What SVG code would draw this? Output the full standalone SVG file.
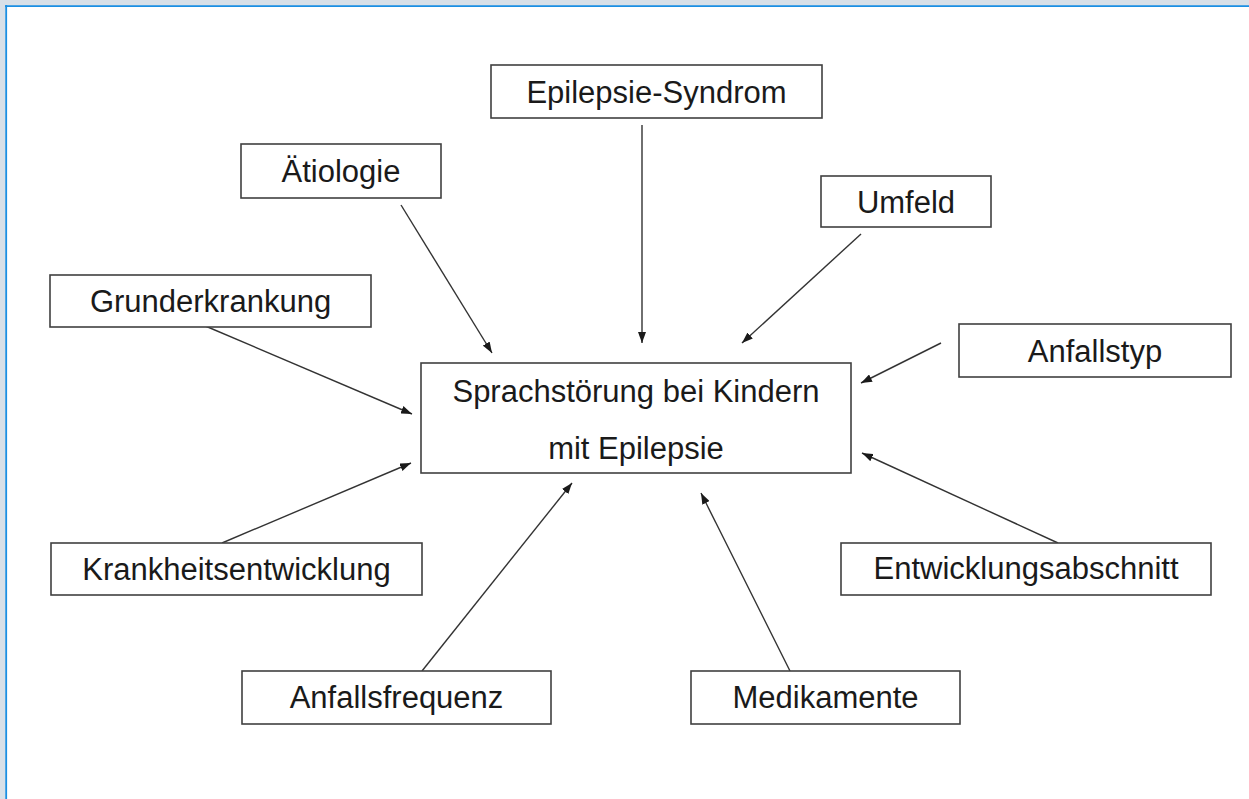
<svg xmlns="http://www.w3.org/2000/svg" width="1249" height="799" viewBox="0 0 1249 799">
<style>
.box{fill:#fff;stroke:#404040;stroke-width:1.6}
.lbl{font-family:"Liberation Sans",Arial,sans-serif;font-size:31px;fill:#1a1a1a;text-anchor:middle}
.con{stroke:#333;stroke-width:1.4;fill:none;marker-end:url(#ah)}
</style>
<defs>
<marker id="ah" markerUnits="userSpaceOnUse" markerWidth="11" markerHeight="8" refX="11" refY="4" orient="auto">
<path d="M0,0 L11,4 L0,8 z" fill="#1a1a1a"/>
</marker>
</defs>
<rect x="0" y="0" width="1249" height="799" fill="#d8e0e8"/>
<rect x="7" y="7" width="1242" height="792" fill="#fff"/>
<line x1="6.2" y1="5" x2="6.2" y2="799" stroke="#1b8fe3" stroke-width="1.8"/>
<line x1="5" y1="6.2" x2="1249" y2="6.2" stroke="#1b8fe3" stroke-width="1.8"/>

<g id="connectors">
<line class="con" x1="401" y1="205" x2="492" y2="353"/>
<line class="con" x1="642" y1="125" x2="642" y2="343"/>
<line class="con" x1="861" y1="234" x2="742" y2="343"/>
<line class="con" x1="941" y1="343" x2="861" y2="383"/>
<line class="con" x1="1058" y1="543" x2="862" y2="453"/>
<line class="con" x1="203" y1="325" x2="412" y2="414"/>
<line class="con" x1="222" y1="543" x2="411" y2="463"/>
<line class="con" x1="422" y1="671" x2="572" y2="483"/>
<line class="con" x1="790" y1="671" x2="701" y2="493"/>
</g>

<g id="center">
<rect class="box" x="421" y="363" width="430" height="110"/>
<text class="lbl" x="636" y="402">Sprachstörung bei Kindern</text>
<text class="lbl" x="636" y="459">mit Epilepsie</text>
</g>
<g id="epilepsie-syndrom">
<rect class="box" x="491" y="65" width="331" height="53"/>
<text class="lbl" x="656.5" y="103">Epilepsie-Syndrom</text>
</g>
<g id="aetiologie">
<rect class="box" x="241" y="144" width="200" height="54"/>
<text class="lbl" x="341" y="182">Ätiologie</text>
</g>
<g id="umfeld">
<rect class="box" x="821" y="176" width="170" height="51"/>
<text class="lbl" x="906" y="213">Umfeld</text>
</g>
<g id="grunderkrankung">
<rect class="box" x="50" y="275" width="321" height="52"/>
<text class="lbl" x="210.5" y="312">Grunderkrankung</text>
</g>
<g id="anfallstyp">
<rect class="box" x="959" y="324" width="272" height="53"/>
<text class="lbl" x="1095" y="362">Anfallstyp</text>
</g>
<g id="krankheitsentwicklung">
<rect class="box" x="51" y="543" width="371" height="52"/>
<text class="lbl" x="236.5" y="580">Krankheitsentwicklung</text>
</g>
<g id="entwicklungsabschnitt">
<rect class="box" x="841" y="543" width="370" height="52"/>
<text class="lbl" x="1026" y="579">Entwicklungsabschnitt</text>
</g>
<g id="anfallsfrequenz">
<rect class="box" x="242" y="671" width="309" height="53"/>
<text class="lbl" x="396.5" y="708">Anfallsfrequenz</text>
</g>
<g id="medikamente">
<rect class="box" x="691" y="671" width="269" height="53"/>
<text class="lbl" x="825.5" y="708">Medikamente</text>
</g>
</svg>
